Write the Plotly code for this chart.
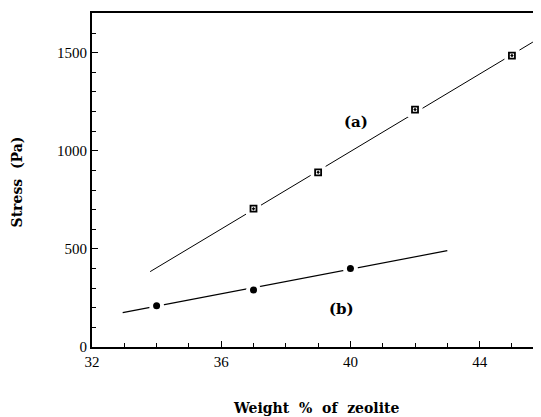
import plotly.graph_objects as go

# Data
a_x = [37, 39, 42, 45]
a_y = [705, 890, 1210, 1485]
b_x = [34, 37, 40]
b_y = [210, 290, 400]
fit_a_x = [33.8, 45.65]
fit_a_y = [384, 1554]
fit_b_x = [32.95, 43.0]
fit_b_y = [175, 491]
x_tickvals = [32, 36, 40, 44]
y_tickvals = [0, 500, 1000, 1500]

SERIF = "Liberation Serif"
WIDE_SERIF = "DejaVu Serif"

fig = go.Figure()
# fit lines
fig.add_trace(go.Scatter(x=fit_a_x, y=fit_a_y, mode="lines",
                         line=dict(color="black", width=1), showlegend=False))
fig.add_trace(go.Scatter(x=fit_b_x, y=fit_b_y, mode="lines",
                         line=dict(color="black", width=1.2), showlegend=False))
# white masks to create gaps around markers
fig.add_trace(go.Scatter(x=a_x, y=a_y, mode="markers",
                         marker=dict(symbol="square", size=15, color="white"), showlegend=False))
fig.add_trace(go.Scatter(x=b_x, y=b_y, mode="markers",
                         marker=dict(symbol="circle", size=15, color="white"), showlegend=False))
# markers
fig.add_trace(go.Scatter(x=a_x, y=a_y, mode="markers",
                         marker=dict(symbol="square-open-dot", size=6, color="black",
                                     line=dict(width=1.8, color="black")), showlegend=False))
fig.add_trace(go.Scatter(x=b_x, y=b_y, mode="markers",
                         marker=dict(symbol="circle", size=7, color="black"), showlegend=False))

fig.add_annotation(x=40.17, y=1145, text="<b>(a)</b>", showarrow=False,
                   font=dict(family=WIDE_SERIF, size=15, color="black"))
fig.add_annotation(x=39.72, y=194, text="<b>(b)</b>", showarrow=False,
                   font=dict(family=WIDE_SERIF, size=15, color="black"))
# axis titles
fig.add_annotation(xref="paper", yref="paper", x=-0.166, y=0.494,
                   text="<b>Stress&nbsp;&nbsp;(Pa)</b>", textangle=-90, showarrow=False,
                   xanchor="center", yanchor="middle",
                   font=dict(family=WIDE_SERIF, size=14, color="black"))
fig.add_annotation(xref="paper", yref="paper", x=0.498, y=-0.183,
                   text="<b>Weight&nbsp;&nbsp;%&nbsp;&nbsp;of&nbsp;&nbsp;zeolite</b>", showarrow=False,
                   xanchor="center", yanchor="middle",
                   font=dict(family=WIDE_SERIF, size=14, color="black"))

# the page places the figure 8px in from the top-left, so the figure is sized to fill the window
fig.update_layout(
    width=533, height=409,
    margin=dict(l=84, r=0, t=5, b=70),
    plot_bgcolor="white", paper_bgcolor="white",
    showlegend=False,
    xaxis=dict(range=[32, 45.9], tickvals=x_tickvals, ticks="inside", ticklen=6,
               tickwidth=1.2, tickcolor="black", showgrid=False, zeroline=False,
               showline=True, linecolor="black", linewidth=2, mirror=True,
               tickfont=dict(family=SERIF, size=15, color="black"),
               minor=dict(dtick=1, ticks="inside", ticklen=4, tickcolor="black", tickwidth=1,
                          showgrid=False)),
    yaxis=dict(range=[0, 1702], tickvals=y_tickvals, ticks="inside", ticklen=6,
               tickwidth=1.2, tickcolor="black", showgrid=False, zeroline=False,
               showline=True, linecolor="black", linewidth=2,
               tickfont=dict(family=SERIF, size=15, color="black"),
               minor=dict(dtick=100, ticks="inside", ticklen=4, tickcolor="black", tickwidth=1,
                          showgrid=False)),
)

fig.write_html("out.html")
